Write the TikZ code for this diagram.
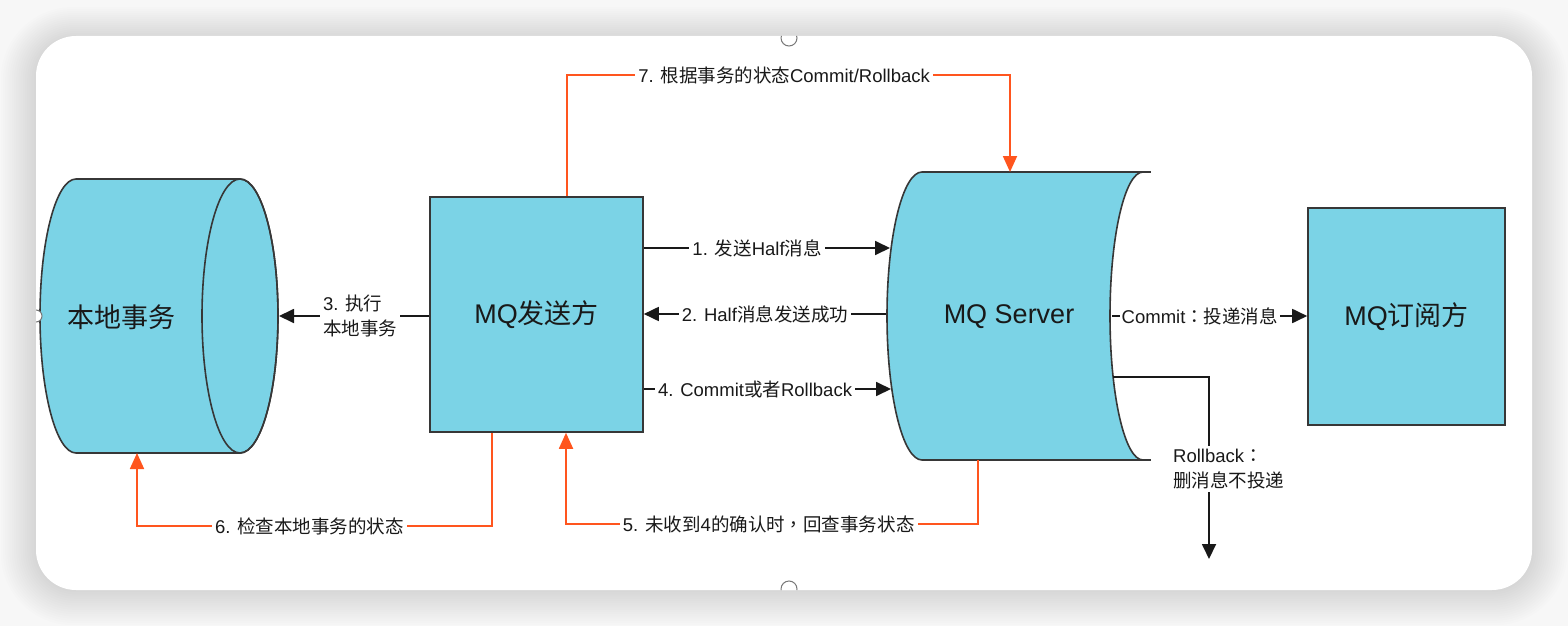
\documentclass[tikz,border=0pt]{standalone}
\usepackage{fontspec}
\setmainfont{Liberation Sans}
\newfontfamily\cjk{Noto Sans CJK SC}
\newfontfamily\cjkp{Noto Sans CJK TC}
\newcommand\zh[1]{{\cjk #1}}
\newcommand\zp[1]{{\cjkp #1}}
\usetikzlibrary{arrows.meta}
\definecolor{fillc}{RGB}{123,211,230}
\definecolor{edgec}{RGB}{55,55,55}
\definecolor{orng}{RGB}{255,85,30}
\definecolor{txt}{RGB}{25,25,25}
\definecolor{handle}{RGB}{120,120,120}
\definecolor{bgc}{RGB}{247,247,247}
\begin{document}
\begin{tikzpicture}[x=1pt,y=-1pt,
  edge/.style={draw=edgec, line width=1.6pt},
  shapeedge/.style={edge, fill=fillc},
  box/.style={shapeedge, inner sep=0pt, font=\fontsize{27}{32}\selectfont, text=txt},
  big/.style={font=\fontsize{27}{32}\selectfont, text=txt, inner sep=0pt},
  blk/.style={draw=txt, line width=1.8pt, -{Triangle[length=15pt,width=14pt]}},
  oarr/.style={draw=orng, line width=1.8pt, -{Triangle[length=16pt,width=14pt]}},
  lbl/.style={fill=white, inner sep=3pt, text=txt, font=\fontsize{18.5}{25}\selectfont, align=left}]
\useasboundingbox (0,0) rectangle (1568,626);
\fill[bgc] (0,0) rectangle (1568,626);
% card shadow
\foreach \i in {1,...,16}{
  \pgfmathsetmacro\rr{40+2*\i}
  \fill[black, opacity=0.009, rounded corners=\rr pt] (36-2.2*\i, 36-2*\i+3) rectangle (1532+2.2*\i, 590+2.2*\i);
}
\fill[white, rounded corners=40pt] (36,36) rectangle (1532,590);

% local transaction cylinder
\filldraw[shapeedge] (76,179) -- (240,179) arc[start angle=-90,end angle=90,x radius=38,y radius=137] -- (76,453) arc[start angle=90,end angle=270,x radius=36,y radius=137] -- cycle;
\draw[edge] (240,316) ellipse [x radius=38, y radius=137];
\node[big] (local) at (121,317) {\zh{本地事务}};
\coordinate (localE) at (279,316);
\coordinate (localS) at (137,453);

% MQ server shape
\filldraw[shapeedge] (922,172) -- (1143,172) arc[start angle=-90,end angle=-270,x radius=33,y radius=144] -- (922,460) arc[start angle=90,end angle=270,x radius=35,y radius=144] -- cycle;
\draw[edge] (1143,172) -- (1151,172) (1143,460) -- (1151,460);
\node[big] (server) at (1009,317) {MQ Server};
\coordinate (srvN) at (1010,172);
\coordinate (srvS) at (978,460);
\coordinate (s1) at (890,248);
\coordinate (s2) at (886,314);
\coordinate (s4) at (891,389);
\coordinate (srvE) at (1112,316);
\coordinate (srvR) at (1113,377);
\coordinate (rbend) at (1209,559);

% boxes
\node[box, minimum width=213pt, minimum height=235pt] (sender) at (536.5,314.5) {MQ\zh{发送方}};
\node[box, minimum width=197pt, minimum height=217pt] (sub) at (1406.5,316.5) {MQ\zh{订阅方}};

% black connectors
\draw[blk] (sender.east |- s1) -- node[lbl, pos=0.46] {1. \zh{发送}Half\zh{消息}} (s1);
\draw[blk] (s2) -- node[lbl, pos=0.5] {2. Half\zh{消息发送成功}} (sender.east |- s2);
\draw[blk] (sender.east |- s4) -- node[lbl, pos=0.45] {4. Commit\zh{或者}Rollback} (s4);
\draw[blk] (sender.west |- localE) -- node[lbl, pos=0.46] {3. \zh{执行}\\\zh{本地事务}} (localE);
\draw[blk] (srvE) -- node[lbl, pos=0.45, inner sep=2pt] {Commit\zp{：}\zh{投递消息}} (sub.west |- srvE);
\draw[blk] (srvR) -- (1209,377) -- (rbend);
\node[lbl, anchor=west] (rblabel) at (1170,469) {Rollback\zp{：}\\\zh{删消息不投递}};

% orange connectors
\draw[oarr] ([xshift=30.5pt]sender.north) -- (567,75) -- node[lbl, pos=0.49] {7. \zh{根据事务的状态}Commit/Rollback} (1010,75) -- (srvN);
\draw[oarr] ([xshift=-44.5pt]sender.south) -- (492,526) -- node[lbl, pos=0.514] {6. \zh{检查本地事务的状态}} (137,526) -- (localS);
\draw[oarr] (srvS) -- (978,524) -- node[lbl, pos=0.508] {5. \zh{未收到}4\zh{的确认时}\zp{，}\zh{回查事务状态}} (566,524) -- ([xshift=29.5pt]sender.south);

% selection handles
\begin{scope}
\clip[rounded corners=40pt] (36,36) rectangle (1532,590);
\filldraw[fill=white, draw=handle, line width=1pt] (789,38) circle[radius=8];
\filldraw[fill=white, draw=handle, line width=1pt] (789,589) circle[radius=8];
\filldraw[fill=white, draw=handle, line width=1pt] (36,316) circle[radius=6];
\end{scope}
\end{tikzpicture}
\end{document}
